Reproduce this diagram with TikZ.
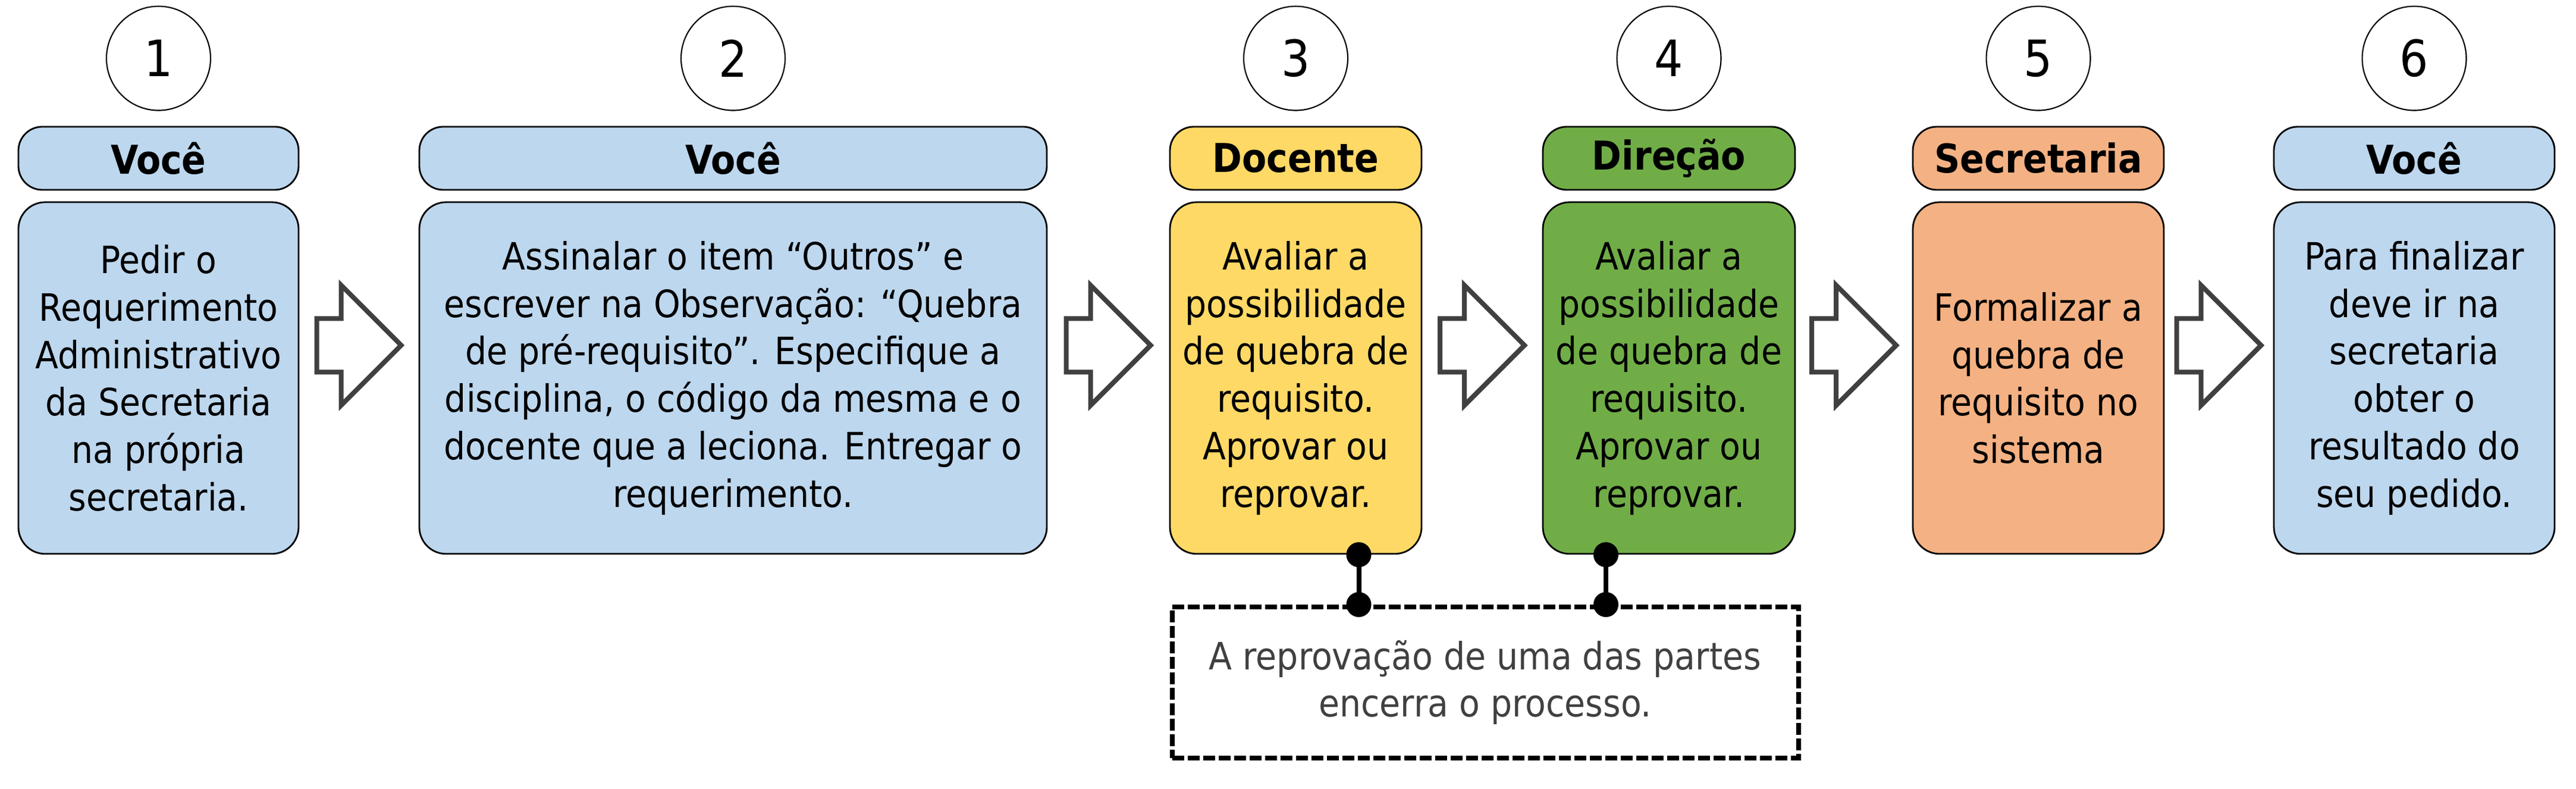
\documentclass[tikz,border=0pt]{standalone}
\usepackage{fontspec}
\setmainfont{DejaVu Sans Condensed}[BoldFont={DejaVu Sans Condensed Bold}]
\usetikzlibrary{calc}
\usetikzlibrary{positioning}
\usetikzlibrary{arrows.meta}
\usetikzlibrary{shapes.arrows}

\definecolor{biru}{HTML}{BDD7EE}
\definecolor{kuning}{HTML}{FFD966}
\definecolor{hijau}{HTML}{70AD47}
\definecolor{oranye}{HTML}{F4B183}
\definecolor{abu}{HTML}{404040}

\tikzset{
  nomor/.style={circle, draw, line width=0.6pt, fill=white, minimum size=1.75cm, inner sep=0pt, font=\fontsize{24}{28}\selectfont},
  kepala/.style={rounded corners=0.4cm, draw, line width=0.8pt, minimum height=1.06cm, inner sep=0pt, font=\fontsize{19}{22}\selectfont\bfseries},
  isi/.style={rounded corners=0.45cm, draw, line width=0.8pt, minimum height=5.91cm, inner sep=0pt, align=center, font=\fontsize{18}{22.7}\selectfont},
  panah/.style={single arrow, draw=abu, fill=white, line width=0.08cm, minimum height=1.42cm, single arrow head extend=0.56cm, inner xsep=0pt, inner ysep=0.41cm, single arrow tip angle=90, anchor=tail},
  catatan/.style={draw, dash pattern=on 0.2cm off 0.06cm, line width=0.08cm, minimum width=10.53cm, minimum height=2.54cm, text=abu, align=center, font=\fontsize{18}{22.7}\selectfont},
  titik/.style={line width=0.08cm, {Circle[length=0.42cm,width=0.42cm]}-{Circle[length=0.42cm,width=0.42cm]}, shorten <=-0.21cm, shorten >=-0.21cm},
}

\begin{document}
\begin{tikzpicture}
    \useasboundingbox (0,0) rectangle (43.31,-13.25);

    % kepala-kepala langkah
    \node[kepala, fill=biru,   minimum width=4.71cm]  (k1) at (2.665,-2.66)  {Você};
    \node[kepala, fill=biru,   minimum width=10.55cm] (k2) at (12.325,-2.66) {Você};
    \node[kepala, fill=kuning, minimum width=4.23cm]  (k3) at (21.785,-2.66) {Docente};
    \node[kepala, fill=hijau,  minimum width=4.24cm]  (k4) at (28.06,-2.66)  {Direção};
    \node[kepala, fill=oranye, minimum width=4.22cm]  (k5) at (34.27,-2.66)  {Secretaria};
    \node[kepala, fill=biru,   minimum width=4.72cm]  (k6) at (40.59,-2.66)  {Você};

    % nomor-nomor langkah
    \node[nomor, above=0.25cm of k1] (n1) {1};
    \node[nomor, above=0.25cm of k2] (n2) {2};
    \node[nomor, above=0.25cm of k3] (n3) {3};
    \node[nomor, above=0.25cm of k4] (n4) {4};
    \node[nomor, above=0.25cm of k5] (n5) {5};
    \node[nomor, above=0.25cm of k6] (n6) {6};

    % isi langkah
    \node[isi, fill=biru,   minimum width=4.71cm,  below=0.18cm of k1] (i1) {Pedir o\\Requerimento\\Administrativo\\da Secretaria\\na própria\\secretaria.};
    \node[isi, fill=biru,   minimum width=10.55cm, below=0.18cm of k2] (i2) {Assinalar o item “Outros” e\\escrever na Observação: “Quebra\\de pré-requisito”. Especifique a\\disciplina, o código da mesma e o\\docente que a leciona. Entregar o\\requerimento.};
    \node[isi, fill=kuning, minimum width=4.23cm,  below=0.18cm of k3] (i3) {Avaliar a\\possibilidade\\de quebra de\\requisito.\\Aprovar ou\\reprovar.};
    \node[isi, fill=hijau,  minimum width=4.24cm,  below=0.18cm of k4] (i4) {Avaliar a\\possibilidade\\de quebra de\\requisito.\\Aprovar ou\\reprovar.};
    \node[isi, fill=oranye, minimum width=4.22cm,  below=0.18cm of k5] (i5) {Formalizar a\\quebra de\\requisito no\\sistema};
    \node[isi, fill=biru,   minimum width=4.72cm,  below=0.18cm of k6] (i6) {Para finalizar\\deve ir na\\secretaria\\obter o\\resultado do\\seu pedido.};

    % panah antar langkah
    \node[panah] (p1) at ($(i1.east)!0.5!(i2.west)+(-0.75,0.55)$) {};
    \node[panah] (p2) at ($(i2.east)!0.5!(i3.west)+(-0.75,0.55)$) {};
    \node[panah] (p3) at ($(i3.east)!0.5!(i4.west)+(-0.75,0.55)$) {};
    \node[panah] (p4) at ($(i4.east)!0.5!(i5.west)+(-0.75,0.55)$) {};
    \node[panah] (p5) at ($(i5.east)!0.5!(i6.west)+(-0.75,0.55)$) {};

    % catatan
    \node[catatan] (c) at (24.97,-11.47) {A reprovação de uma das partes\\encerra o processo.};
    \coordinate (t3) at ($(i3.south)+(1.06,0)$);
    \coordinate (t4) at ($(i4.south)+(-1.06,0)$);
    \draw[titik] (t3) -- (t3 |- c.north);
    \draw[titik] (t4) -- (t4 |- c.north);
\end{tikzpicture}
\end{document}
